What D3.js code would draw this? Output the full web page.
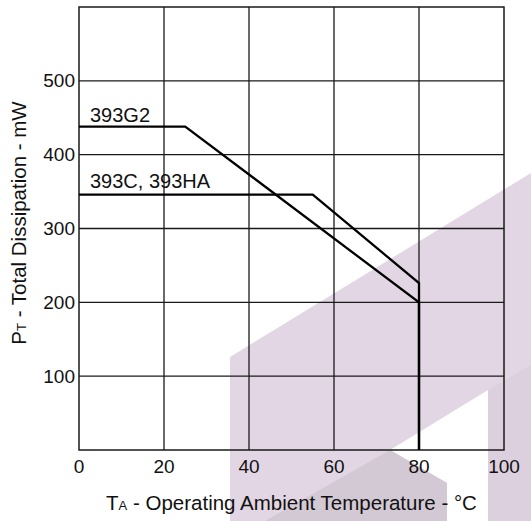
<!DOCTYPE html>
<html>
<head>
<meta charset="utf-8">
<script src="https://cdn.jsdelivr.net/npm/d3@7"></script>
<style>
  body { margin: 0; background: #fff; }
  text { font-family: "Liberation Sans", Arial, sans-serif; fill: #111; }
</style>
</head>
<body>
<div id="chart"></div>
<script>
// data
const tempTicks = [0, 20, 40, 60, 80, 100];
const powerTicks = [100, 200, 300, 400, 500];
const g2Temp = [0, 25, 80, 80];
const g2Power = [438, 438, 200, 0];
const hcTemp = [0, 55, 80, 80];
const hcPower = [346, 346, 226, 0];
const seriesNames = ["393G2", "393C, 393HA"];

const w = 531;
const h = 521;
const plotL = 79, plotR = 504, plotT = 7, plotB = 450;

const svg = d3.select('#chart')
              .append('svg')
              .attr('width', w)
              .attr('height', h);

// faint logo watermark behind the plot
const wmPurple = [[230,357],[531,173],[531,521],[230,521]];
const wmBand = [[488,390],[531,365],[531,521],[488,521]];
const wmWhite = [[390,450],[488,390],[488,521],[447,521],[447,483]];
const wmGrey = [[390,450],[447,483],[447,521],[265,521]];
const wm = svg.append('g');
[[wmPurple,'#e3d6e4'],[wmBand,'#ddd0de'],[wmWhite,'#ffffff'],[wmGrey,'#d3c9d4']].forEach(p => {
  wm.append('polygon')
    .attr('points', p[0].map(d => d.join(',')).join(' '))
    .attr('fill', p[1]);
});

const xScale = d3.scaleLinear().domain([0, 100]).range([plotL, plotR]);
const yScale = d3.scaleLinear().domain([0, 600]).range([plotB, plotT]);

// grid
svg.append('g')
   .selectAll('line')
   .data(tempTicks.slice(1, -1))
   .enter()
   .append('line')
   .attr('x1', d => xScale(d)).attr('x2', d => xScale(d))
   .attr('y1', yScale(0)).attr('y2', yScale(600))
   .attr('stroke', '#1a1a1a').attr('stroke-width', 1.3);
svg.append('g')
   .selectAll('line')
   .data(powerTicks)
   .enter()
   .append('line')
   .attr('x1', xScale(0)).attr('x2', xScale(100))
   .attr('y1', d => yScale(d)).attr('y2', d => yScale(d))
   .attr('stroke', '#1a1a1a').attr('stroke-width', 1.3);
svg.append('rect')
   .attr('x', xScale(0)).attr('y', yScale(600))
   .attr('width', xScale(100) - xScale(0))
   .attr('height', yScale(0) - yScale(600))
   .attr('fill', 'none').attr('stroke', '#1a1a1a').attr('stroke-width', 1.5);

// tick labels
svg.append('g')
   .selectAll('text')
   .data(tempTicks)
   .enter()
   .append('text')
   .attr('x', d => xScale(d))
   .attr('y', 473)
   .attr('text-anchor', 'middle')
   .style('font-size', '19px')
   .text(d => d);
svg.append('g')
   .selectAll('text')
   .data(powerTicks)
   .enter()
   .append('text')
   .attr('x', plotL - 4)
   .attr('y', d => yScale(d))
   .attr('dy', '0.35em')
   .attr('text-anchor', 'end')
   .style('font-size', '19px')
   .text(d => d);

// curves
const line = d3.line().x(d => xScale(d[0])).y(d => yScale(d[1]));
const series = [d3.zip(g2Temp, g2Power), d3.zip(hcTemp, hcPower)];
svg.append('g')
   .selectAll('path')
   .data(series)
   .enter()
   .append('path')
   .attr('d', line)
   .attr('fill', 'none')
   .attr('stroke', '#000')
   .attr('stroke-width', 2.3)
   .attr('stroke-linejoin', 'miter');

svg.append('g')
   .selectAll('text')
   .data(series)
   .enter()
   .append('text')
   .attr('x', xScale(0) + 11)
   .attr('y', (d, i) => yScale(d[0][1]) - (i === 0 ? 5 : 7))
   .style('font-size', '20px')
   .text((d, i) => seriesNames[i]);

// axis titles
const xt = svg.append('text')
   .attr('x', (plotL + plotR) / 2)
   .attr('y', 510)
   .attr('text-anchor', 'middle')
   .style('font-size', '20.5px');
xt.append('tspan').text('T');
xt.append('tspan').style('font-size', '13px').text('A');
xt.append('tspan').text(' - Operating Ambient Temperature - °C');

const yt = svg.append('text')
   .attr('transform', 'translate(26,223) rotate(-90)')
   .attr('text-anchor', 'middle')
   .style('font-size', '20.5px');
yt.append('tspan').text('P');
yt.append('tspan').style('font-size', '13px').text('T');
yt.append('tspan').text(' - Total Dissipation - mW');
</script>
</body>
</html>
